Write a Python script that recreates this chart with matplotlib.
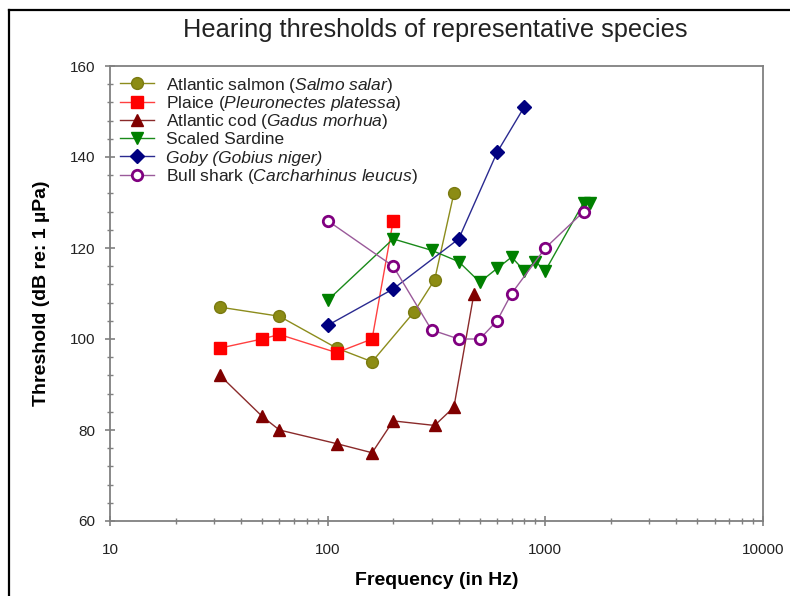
import numpy as np
import matplotlib
matplotlib.use("Agg")
from matplotlib import pyplot as plt
from matplotlib.lines import Line2D
from matplotlib.ticker import AutoMinorLocator, LogLocator, NullFormatter

plt.rcParams["font.family"] = ["Liberation Sans", "DejaVu Sans"]
plt.rcParams["mathtext.fontset"] = "custom"
plt.rcParams["mathtext.rm"] = "Liberation Sans"
plt.rcParams["mathtext.it"] = "Liberation Sans:italic"

# threshold curves, frequency in Hz and threshold in dB re 1 uPa
salmon_f = [32, 60, 110, 160, 250, 310, 380]
salmon_db = [107, 105, 98, 95, 106, 113, 132]

plaice_f = [32, 50, 60, 110, 160, 200]
plaice_db = [98, 100, 101, 97, 100, 126]

cod_f = [32, 50, 60, 110, 160, 200, 310, 380, 470]
cod_db = [92, 83, 80, 77, 75, 82, 81, 85, 110]

sardine_f = [100, 200, 300, 400, 500, 600, 700, 800, 900, 1000, 1500, 1600]
sardine_db = [108.5, 122, 119.5, 117, 112.5, 115.5, 118, 115, 117, 115, 130, 130]

goby_f = [100, 200, 400, 600, 800]
goby_db = [103, 111, 122, 141, 151]

shark_f = [100, 200, 300, 400, 500, 600, 700, 1000, 1500]
shark_db = [126, 116, 102, 100, 100, 104, 110, 120, 128]

labels = [
    r"Atlantic salmon ($\mathit{Salmo\ salar}$)",
    r"Plaice ($\mathit{Pleuronectes\ platessa}$)",
    r"Atlantic cod ($\mathit{Gadus\ morhua}$)",
    "Scaled Sardine",
    "Goby (Gobius niger)",
    r"Bull shark ($\mathit{Carcharhinus\ leucus}$)",
]

fig = plt.figure(figsize=(7.9, 5.96), dpi=100)
ax = fig.add_axes([110 / 790, 1 - 521 / 596, 653 / 790, 455 / 596])

ax.plot(salmon_f, salmon_db, color="#8c8c1c", lw=1, marker="o", ms=8.5,
        mfc="#8c8c14", mec="#7a7a10", label=labels[0])
ax.plot(plaice_f, plaice_db, color="#ff4040", lw=1, marker="s", ms=8,
        mfc="#ff0000", mec="#ff0000", label=labels[1])
ax.plot(cod_f, cod_db, color="#8a2a2a", lw=1, marker="^", ms=8.5,
        mfc="#800000", mec="#800000", label=labels[2])
ax.plot(sardine_f, sardine_db, color="#1a8a1a", lw=1, marker="v", ms=8.5,
        mfc="#008000", mec="#008000", label=labels[3])
ax.plot(goby_f, goby_db, color="#2a2a90", lw=1, marker="D", ms=7.5,
        mfc="#000080", mec="#000080", label=labels[4])
ax.plot(shark_f, shark_db, color="#9a5a9a", lw=1, marker="o", ms=7.5,
        mfc="white", mec="#800080", mew=2, label=labels[5])

ax.set_xscale("log")
ax.set_xlim(10, 10000)
ax.set_ylim(60, 160)
ax.set_xticks([10, 100, 1000, 10000])
ax.set_xticklabels(["10", "100", "1000", "10000"])
ax.xaxis.set_minor_locator(LogLocator(base=10, subs=np.arange(2, 10)))
ax.xaxis.set_minor_formatter(NullFormatter())
ax.set_yticks([60, 80, 100, 120, 140, 160])
ax.yaxis.set_minor_locator(AutoMinorLocator(5))

for sp in ax.spines.values():
    sp.set_color("#808080")
    sp.set_linewidth(1.3)
ax.tick_params(which="major", direction="inout", length=7, width=1.2,
               color="#808080", labelsize=11, labelcolor="#222222")
ax.tick_params(which="minor", direction="inout", length=4, width=1.0,
               color="#808080")
ax.tick_params(axis="x", which="major", pad=12)
ax.tick_params(axis="y", which="major", pad=7)

ax.set_xlabel("Frequency (in Hz)", fontsize=14, fontweight="bold", labelpad=11)
ax.set_ylabel("Threshold (dB re: 1 µPa)", fontsize=14, fontweight="bold", labelpad=14)

leg = ax.legend(loc="upper left", bbox_to_anchor=(0, 1), borderaxespad=0,
                borderpad=0.55, frameon=False, fontsize=12.5, labelspacing=-0.04,
                handlelength=2.0, handleheight=1.3, handletextpad=0.7)
# centre each text on its handle box so all rows get the same height
for column in leg._legend_handle_box.get_children():
    for row in column.get_children():
        row.align = "center"
leg.get_texts()[4].set_fontstyle("italic")
for t in leg.get_texts():
    t.set_color("#222222")

fig.text(435 / 790, 1 - 30 / 596, "Hearing thresholds of representative species",
         ha="center", va="center", fontsize=18.3, color="#222222")

# outer frame, left and top edges
fig.add_artist(Line2D([9 / 790, 9 / 790], [0, 1 - 10 / 596], color="black", lw=1.6,
                      transform=fig.transFigure))
fig.add_artist(Line2D([9 / 790, 1], [1 - 10 / 596, 1 - 10 / 596], color="black", lw=1.6,
                      transform=fig.transFigure))

fig.savefig("out.png", dpi=100)
